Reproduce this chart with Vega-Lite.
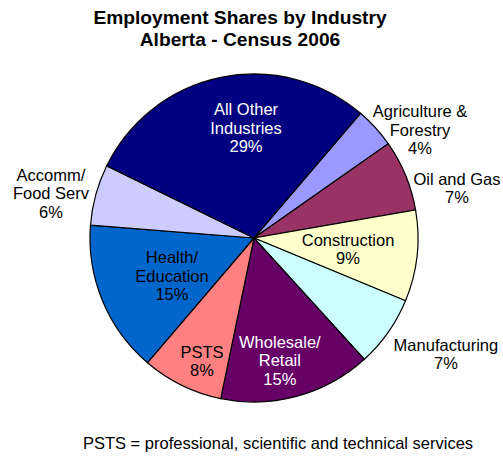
{
  "$schema": "https://vega.github.io/schema/vega-lite/v6.json",
  "padding": {"left": 5, "top": 8, "right": 0, "bottom": 0},
  "spacing": 0,
  "background": "white",
  "config": {"view": {"stroke": null}, "font": "Liberation Sans"},
  "datasets": {
    "shares": [
      {"idx": 1, "name": "Agriculture & Forestry", "share": 4, "label": "Agriculture &\nForestry\n4%"},
      {"idx": 2, "name": "Oil and Gas", "share": 7, "label": "Oil and Gas\n7%"},
      {"idx": 3, "name": "Construction", "share": 9, "label": "Construction\n9%"},
      {"idx": 4, "name": "Manufacturing", "share": 7, "label": "Manufacturing\n7%"},
      {"idx": 5, "name": "Wholesale/Retail", "share": 15, "label": "Wholesale/\nRetail\n15%"},
      {"idx": 6, "name": "PSTS", "share": 8, "label": "PSTS\n8%"},
      {"idx": 7, "name": "Health/Education", "share": 15, "label": "Health/\nEducation\n15%"},
      {"idx": 8, "name": "Accomm/Food Serv", "share": 6, "label": "Accomm/\nFood Serv\n6%"},
      {"idx": 9, "name": "All Other Industries", "share": 29, "label": "All Other\nIndustries\n29%"}
    ],
    "note": [{"text": "PSTS = professional, scientific and technical services"}]
  },
  "vconcat": [
    {
      "title": {
        "text": ["Employment Shares by Industry", "Alberta - Census 2006"],
        "fontSize": 19.2,
        "fontWeight": "bold",
        "lineHeight": 22,
        "anchor": "middle",
        "dx": -14,
        "offset": 13,
        "color": "black"
      },
      "width": 498,
      "height": 350,
      "data": {"name": "shares"},
      "transform": [
        {"stack": "share", "sort": [{"field": "idx", "order": "ascending"}], "groupby": [], "as": ["s0", "s1"]}
      ],
      "layer": [
        {
          "mark": {"type": "arc", "radius": 164, "stroke": "black", "strokeWidth": 1.2},
          "encoding": {
            "theta": {"field": "s0", "type": "quantitative", "scale": {"domain": [0, 100], "range": [0.707, 6.990]}},
            "theta2": {"field": "s1"},
            "color": {
              "field": "name", "type": "nominal", "legend": null,
              "scale": {
                "domain": ["Agriculture & Forestry", "Oil and Gas", "Construction", "Manufacturing", "Wholesale/Retail", "PSTS", "Health/Education", "Accomm/Food Serv", "All Other Industries"],
                "range": ["#9999FF", "#993366", "#FFFFCC", "#CCFFFF", "#660066", "#FF8080", "#0066CC", "#CCCCFF", "#000080"]
              }
            }
          }
        },
        {
          "transform": [{"filter": "datum.idx === 1"}],
          "mark": {"type": "text", "radius": 197.5, "thetaOffset": 0.291, "dy": -18.5, "fontSize": 16.5, "lineHeight": 18.5, "lineBreak": "\n", "fill": "black"},
          "encoding": {"theta": {"field": "s0", "type": "quantitative"}, "text": {"field": "label"}}
        },
        {
          "transform": [{"filter": "datum.idx === 2"}],
          "mark": {"type": "text", "radius": 208.8, "thetaOffset": 0.375, "dy": -9.25, "fontSize": 16.5, "lineHeight": 18.5, "lineBreak": "\n", "fill": "black"},
          "encoding": {"theta": {"field": "s0", "type": "quantitative"}, "text": {"field": "label"}}
        },
        {
          "transform": [{"filter": "datum.idx === 3"}],
          "mark": {"type": "text", "radius": 94.8, "thetaOffset": 0.300, "dy": -9.25, "fontSize": 16.5, "lineHeight": 18.5, "lineBreak": "\n", "fill": "black"},
          "encoding": {"theta": {"field": "s0", "type": "quantitative"}, "text": {"field": "label"}}
        },
        {
          "transform": [{"filter": "datum.idx === 4"}],
          "mark": {"type": "text", "radius": 224.8, "thetaOffset": 0.155, "dy": -9.25, "fontSize": 16.5, "lineHeight": 18.5, "lineBreak": "\n", "fill": "black"},
          "encoding": {"theta": {"field": "s0", "type": "quantitative"}, "text": {"field": "label"}}
        },
        {
          "transform": [{"filter": "datum.idx === 5"}],
          "mark": {"type": "text", "radius": 125.7, "thetaOffset": 0.531, "dy": -18.5, "fontSize": 16.5, "lineHeight": 18.5, "lineBreak": "\n", "fill": "white"},
          "encoding": {"theta": {"field": "s0", "type": "quantitative"}, "text": {"field": "label"}}
        },
        {
          "transform": [{"filter": "datum.idx === 6"}],
          "mark": {"type": "text", "radius": 134.5, "thetaOffset": 0.193, "dy": -9.25, "fontSize": 16.5, "lineHeight": 18.5, "lineBreak": "\n", "fill": "black"},
          "encoding": {"theta": {"field": "s0", "type": "quantitative"}, "text": {"field": "label"}}
        },
        {
          "transform": [{"filter": "datum.idx === 7"}],
          "mark": {"type": "text", "radius": 90.8, "thetaOffset": 0.421, "dy": -18.5, "fontSize": 16.5, "lineHeight": 18.5, "lineBreak": "\n", "fill": "black"},
          "encoding": {"theta": {"field": "s0", "type": "quantitative"}, "text": {"field": "label"}}
        },
        {
          "transform": [{"filter": "datum.idx === 8"}],
          "mark": {"type": "text", "radius": 207.7, "thetaOffset": 0.134, "dy": -18.5, "fontSize": 16.5, "lineHeight": 18.5, "lineBreak": "\n", "fill": "black"},
          "encoding": {"theta": {"field": "s0", "type": "quantitative"}, "text": {"field": "label"}}
        },
        {
          "transform": [{"filter": "datum.idx === 9"}],
          "mark": {"type": "text", "radius": 109.3, "thetaOffset": 1.042, "dy": -18.5, "fontSize": 16.5, "lineHeight": 18.5, "lineBreak": "\n", "fill": "white"},
          "encoding": {"theta": {"field": "s0", "type": "quantitative"}, "text": {"field": "label"}}
        }
      ]
    },
    {
      "width": 498,
      "height": 62,
      "data": {"name": "note"},
      "mark": {"type": "text", "fontSize": 16.5, "dx": 24, "fill": "black"},
      "encoding": {"text": {"field": "text", "type": "nominal"}}
    }
  ]
}
